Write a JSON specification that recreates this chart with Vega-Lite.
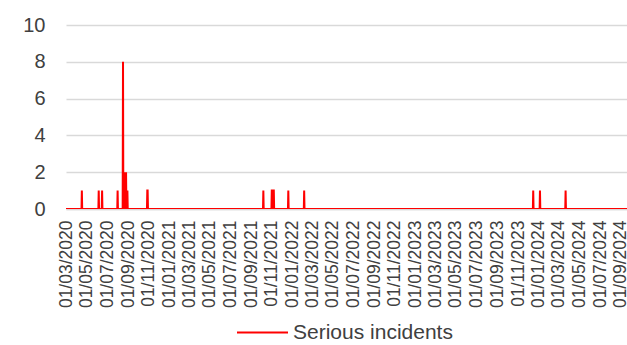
{
  "$schema": "https://vega.github.io/schema/vega-lite/v6.json",
  "width": 561,
  "height": 184,
  "autosize": "none",
  "padding": {"left": 66, "top": 25, "right": 0, "bottom": 136},
  "background": "white",
  "config": {
    "view": {"stroke": null},
    "font": "Liberation Sans"
  },
  "data": {
    "values": [
      {"date": "2020-03-01", "incidents": 0, "series": "Serious incidents"},
      {"date": "2020-04-16", "incidents": 0, "series": "Serious incidents"},
      {"date": "2020-04-17", "incidents": 1, "series": "Serious incidents"},
      {"date": "2020-04-18", "incidents": 0, "series": "Serious incidents"},
      {"date": "2020-06-05", "incidents": 0, "series": "Serious incidents"},
      {"date": "2020-06-06", "incidents": 1, "series": "Serious incidents"},
      {"date": "2020-06-07", "incidents": 0, "series": "Serious incidents"},
      {"date": "2020-06-15", "incidents": 0, "series": "Serious incidents"},
      {"date": "2020-06-16", "incidents": 1, "series": "Serious incidents"},
      {"date": "2020-06-17", "incidents": 0, "series": "Serious incidents"},
      {"date": "2020-07-31", "incidents": 0, "series": "Serious incidents"},
      {"date": "2020-08-01", "incidents": 1, "series": "Serious incidents"},
      {"date": "2020-08-02", "incidents": 0, "series": "Serious incidents"},
      {"date": "2020-08-16", "incidents": 0, "series": "Serious incidents"},
      {"date": "2020-08-17", "incidents": 8, "series": "Serious incidents"},
      {"date": "2020-08-18", "incidents": 0, "series": "Serious incidents"},
      {"date": "2020-08-21", "incidents": 0, "series": "Serious incidents"},
      {"date": "2020-08-22", "incidents": 2, "series": "Serious incidents"},
      {"date": "2020-08-23", "incidents": 0, "series": "Serious incidents"},
      {"date": "2020-08-25", "incidents": 0, "series": "Serious incidents"},
      {"date": "2020-08-26", "incidents": 2, "series": "Serious incidents"},
      {"date": "2020-08-27", "incidents": 0, "series": "Serious incidents"},
      {"date": "2020-08-29", "incidents": 0, "series": "Serious incidents"},
      {"date": "2020-08-30", "incidents": 1, "series": "Serious incidents"},
      {"date": "2020-08-31", "incidents": 0, "series": "Serious incidents"},
      {"date": "2020-10-27", "incidents": 0, "series": "Serious incidents"},
      {"date": "2020-10-28", "incidents": 1, "series": "Serious incidents"},
      {"date": "2020-10-29", "incidents": 1, "series": "Serious incidents"},
      {"date": "2020-10-30", "incidents": 0, "series": "Serious incidents"},
      {"date": "2021-10-06", "incidents": 0, "series": "Serious incidents"},
      {"date": "2021-10-07", "incidents": 1, "series": "Serious incidents"},
      {"date": "2021-10-08", "incidents": 0, "series": "Serious incidents"},
      {"date": "2021-10-31", "incidents": 0, "series": "Serious incidents"},
      {"date": "2021-11-01", "incidents": 1, "series": "Serious incidents"},
      {"date": "2021-11-02", "incidents": 1, "series": "Serious incidents"},
      {"date": "2021-11-03", "incidents": 0, "series": "Serious incidents"},
      {"date": "2021-11-05", "incidents": 0, "series": "Serious incidents"},
      {"date": "2021-11-06", "incidents": 1, "series": "Serious incidents"},
      {"date": "2021-11-07", "incidents": 1, "series": "Serious incidents"},
      {"date": "2021-11-08", "incidents": 0, "series": "Serious incidents"},
      {"date": "2021-12-19", "incidents": 0, "series": "Serious incidents"},
      {"date": "2021-12-20", "incidents": 1, "series": "Serious incidents"},
      {"date": "2021-12-21", "incidents": 0, "series": "Serious incidents"},
      {"date": "2022-02-04", "incidents": 0, "series": "Serious incidents"},
      {"date": "2022-02-05", "incidents": 1, "series": "Serious incidents"},
      {"date": "2022-02-06", "incidents": 0, "series": "Serious incidents"},
      {"date": "2023-12-15", "incidents": 0, "series": "Serious incidents"},
      {"date": "2023-12-16", "incidents": 1, "series": "Serious incidents"},
      {"date": "2023-12-17", "incidents": 0, "series": "Serious incidents"},
      {"date": "2024-01-04", "incidents": 0, "series": "Serious incidents"},
      {"date": "2024-01-05", "incidents": 1, "series": "Serious incidents"},
      {"date": "2024-01-06", "incidents": 0, "series": "Serious incidents"},
      {"date": "2024-03-20", "incidents": 0, "series": "Serious incidents"},
      {"date": "2024-03-21", "incidents": 1, "series": "Serious incidents"},
      {"date": "2024-03-22", "incidents": 0, "series": "Serious incidents"},
      {"date": "2024-09-19", "incidents": 0, "series": "Serious incidents"}
    ]
  },
  "mark": {"type": "line", "strokeWidth": 2, "clip": true},
  "encoding": {
    "x": {
      "field": "date",
      "type": "temporal",
      "scale": {
        "domain": ["2020-03-01", "2024-09-19"]
      },
      "axis": {
        "title": null,
        "format": "%d/%m/%Y",
        "tickCount": {"interval": "month", "step": 2},
        "labelAngle": -90,
        "labelOverlap": false,
        "labelFontSize": 17.5,
        "labelColor": "#404040",
        "labelPadding": 11,
        "ticks": false,
        "tickSize": 0,
        "grid": false,
        "domain": true,
        "domainColor": "#d9d9d9",
        "domainWidth": 1.5
      }
    },
    "y": {
      "field": "incidents",
      "type": "quantitative",
      "scale": {"domain": [0, 10]},
      "axis": {
        "title": null,
        "values": [0, 2, 4, 6, 8, 10],
        "labelFontSize": 20,
        "labelColor": "#404040",
        "labelPadding": 21,
        "ticks": false,
        "tickSize": 0,
        "domain": false,
        "grid": true,
        "gridColor": "#d9d9d9",
        "gridWidth": 1.5
      }
    },
    "color": {
      "field": "series",
      "type": "nominal",
      "scale": {"range": ["#ff0000"]},
      "legend": {
        "title": null,
        "orient": "none",
        "legendX": 170,
        "legendY": 281,
        "padding": 0,
        "symbolType": "stroke",
        "symbolSize": 2601,
        "symbolStrokeWidth": 2,
        "labelFontSize": 21,
        "labelColor": "#404040",
        "labelOffset": 4
      }
    }
  }
}
